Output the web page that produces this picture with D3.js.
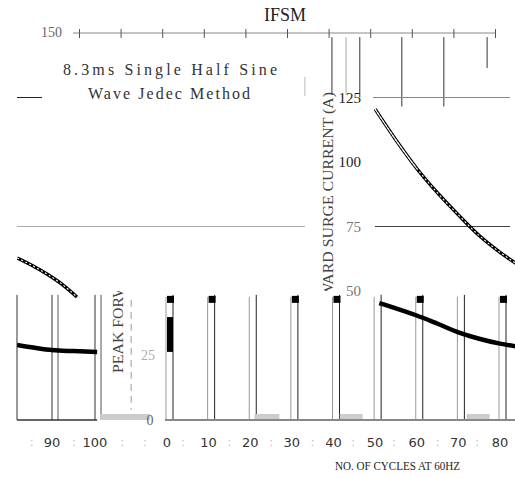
<!DOCTYPE html>
<html>
<head>
<meta charset="utf-8">
<script src="https://cdn.jsdelivr.net/npm/d3@7"></script>
<style>
  body { margin: 0; background: #fff; }
  text { font-family: "Liberation Serif", "DejaVu Serif", serif; }
  .sans { font-family: "DejaVu Sans", sans-serif; }
</style>
</head>
<body>
<div id="main"></div>
<script>
// ---------------- chart values -----------------//

let currentTicks = [25, 50, 75, 100, 125, 150];
let cycleTicks = [0, 10, 20, 30, 40, 50, 60, 70, 80];
let wrapTicks = [90, 100];
let cycleMinor = [-5.3, 3.8, 15, 25, 35, 44.7, 54.5, 65, 74.5];
let wrapMinor = [85.3, 95.1, 106.3];
let topTicks = [-20, -10, 0, 10, 20, 30, 40, 50, 60, 70, 80];

// surge curve pieces: cycles / amps
let upperCycles = [50, 55, 60, 65, 70, 75, 80, 84];
let upperAmps = [120.5, 108.5, 97.5, 88, 79.5, 71.5, 65, 60.5];
let midCycles = [81.9, 85.5, 89, 92.5, 95.8];
let midAmps = [62.8, 59.8, 56.4, 52.4, 47.7];
let linkCycles = [45.2, 48.5, 51.9];
let linkAmps = [51.5, 48, 44.6];
let lowerCycles = [51, 55, 60, 65, 70, 75, 80, 84];
let lowerAmps = [45.3, 43.3, 40.5, 37.3, 34, 31.5, 29.6, 28.5];
let tailCycles = [81.9, 86, 90, 95, 100.5];
let tailAmps = [29.1, 28, 27.1, 26.7, 26.4];

// grid pieces
let capCycles = [0, 10, 30, 40, 60, 80];
let cycleBands = [[21, 27], [41.5, 47], [72, 77.5]];
let wrapBands = [[101.2, 112.8]];
let topLineCycles = [40.8, 44.2, 47.5, 57.6, 67.7, 78.1];
let topLineEnds = [126, 126, 125, 121.5, 121.5, 136.4];
let axisBar = [26.4, 39.9];

// ---------------- setup -----------------//

let width = 515;
let height = 478;
let leftEdge = 17;
let rightStart = 372;
let rightEnd = 510;

let svg = d3.select("#main")
  .append("svg")
  .attr("width", width)
  .attr("height", height)

let y = d3.scaleLinear().domain([0, 150]).range([420, 33]);
let xMain = d3.scaleLinear().domain([0, 80]).range([167, 500]);
let xWrap = d3.scaleLinear().domain([90, 100]).range([52, 95]);
let xTop = d3.scaleLinear().domain([-20, 80]).range([79, 495]);

let defs = svg.append("defs");
function addClip(id, x, yy, w, h) {
  defs.append("clipPath").attr("id", id)
    .append("rect").attr("x", x).attr("y", yy).attr("width", w).attr("height", h);
}
addClip("clipRight", rightStart, 90, width - rightStart, y(48.5) - 90);
addClip("clipRightHead", rightStart, 90, xMain(60) - rightStart, y(48.5) - 90);
addClip("clipLeft", leftEdge, 0, 100 - leftEdge, height);
addClip("clipLabelHigh", 300, 88, 45, y(50) - 88);
addClip("clipLabelLow", 100, y(50), 35, 120);

let line = d3.line().curve(d3.curveMonotoneX);
function zipPts(xs, ys, sx) {
  return xs.map((c, i) => [sx(c), y(ys[i])]);
}

// ---------------- title & note -----------------//

svg.append("text")
  .attr("x", 285).attr("y", 21)
  .attr("text-anchor", "middle")
  .attr("font-size", 18)
  .attr("fill", "#222")
  .text("IFSM");

svg.append("text")
  .attr("x", 63).attr("y", 75)
  .attr("font-size", 16)
  .attr("fill", "#333")
  .attr("textLength", 214)
  .attr("lengthAdjust", "spacing")
  .text("8.3ms Single Half Sine");

svg.append("text")
  .attr("x", 88).attr("y", 99)
  .attr("font-size", 16)
  .attr("fill", "#333")
  .attr("textLength", 162)
  .attr("lengthAdjust", "spacing")
  .text("Wave Jedec Method");

// ---------------- top axis -----------------//

let topAxis = svg.append("g")
  .attr("transform", `translate(0, ${y(150)})`)
  .call(d3.axisBottom(xTop).tickValues(topTicks).tickSizeInner(5).tickSizeOuter(0).tickFormat(""));
topAxis.select(".domain").attr("stroke", "#888").attr("d", `M73,0H495`);
topAxis.selectAll(".tick line").attr("y1", -4).attr("stroke", "#555");

svg.selectAll(".topLine")
  .data(topLineCycles)
  .enter()
  .append("line")
  .attr("class", "topLine")
  .attr("x1", d => xTop(d)).attr("x2", d => xTop(d))
  .attr("y1", y(148.4))
  .attr("y2", (d, i) => y(topLineEnds[i]))
  .attr("stroke", (d, i) => i == 1 ? "#aaa" : "#333");

svg.append("line")
  .attr("x1", xTop(34.3)).attr("x2", xTop(34.3))
  .attr("y1", y(133)).attr("y2", y(125.5))
  .attr("stroke", "#bbb");

// ---------------- horizontal grid -----------------//

function hLine(x1, x2, v, color) {
  svg.append("line")
    .attr("x1", x1).attr("x2", x2)
    .attr("y1", y(v)).attr("y2", y(v))
    .attr("stroke", color);
}
hLine(leftEdge, 42, 125, "#222");
hLine(rightStart + 1, rightEnd, 125, "#888");
hLine(leftEdge, 305, 75, "#aaa");
hLine(rightStart + 3, rightEnd, 75, "#444");

// ---------------- bottom grid -----------------//

let gridTop = y(48.5);

svg.selectAll(".gridGray")
  .data(cycleTicks)
  .enter()
  .append("line")
  .attr("x1", d => xMain(d) - 1).attr("x2", d => xMain(d) - 1)
  .attr("y1", gridTop + 2).attr("y2", y(0))
  .attr("stroke", "#999");

svg.selectAll(".gridBlack")
  .data(cycleTicks)
  .enter()
  .append("line")
  .attr("x1", d => xMain(d) + 6).attr("x2", d => xMain(d) + 6)
  .attr("y1", gridTop).attr("y2", y(0))
  .attr("stroke", "#222");

wrapTicks.forEach(function(v) {
  [[0, "#333"], [6, "#555"]].forEach(function(o) {
    svg.append("line")
      .attr("x1", xWrap(v) + o[0]).attr("x2", xWrap(v) + o[0])
      .attr("y1", gridTop).attr("y2", y(0))
      .attr("stroke", o[1]);
  });
});
svg.append("line")
  .attr("x1", leftEdge).attr("x2", leftEdge)
  .attr("y1", gridTop).attr("y2", y(0))
  .attr("stroke", "#333");

svg.append("line")
  .attr("x1", xWrap(108.4)).attr("x2", xWrap(108.4))
  .attr("y1", gridTop + 5).attr("y2", y(4))
  .attr("stroke", "#999")
  .attr("stroke-dasharray", "7,5");

svg.selectAll(".cap")
  .data(capCycles)
  .enter()
  .append("rect")
  .attr("x", d => xMain(d))
  .attr("y", gridTop + 1)
  .attr("width", 7)
  .attr("height", 7)
  .attr("fill", "#000");

svg.append("rect")
  .attr("x", xMain(0))
  .attr("y", y(axisBar[1]))
  .attr("width", 6)
  .attr("height", y(axisBar[0]) - y(axisBar[1]))
  .attr("fill", "#000");

// gray bands along the base
svg.selectAll(".band")
  .data(cycleBands)
  .enter()
  .append("rect")
  .attr("x", d => xMain(d[0]))
  .attr("y", y(0) - 6)
  .attr("width", d => xMain(d[1]) - xMain(d[0]))
  .attr("height", 6)
  .attr("fill", "#ccc");

svg.selectAll(".wband")
  .data(wrapBands)
  .enter()
  .append("rect")
  .attr("x", d => xWrap(d[0]))
  .attr("y", y(0) - 6)
  .attr("width", d => xWrap(d[1]) - xWrap(d[0]))
  .attr("height", 6)
  .attr("fill", "#ccc");

// base lines
svg.append("line")
  .attr("x1", leftEdge).attr("x2", xWrap(100.5))
  .attr("y1", y(0)).attr("y2", y(0))
  .attr("stroke", "#333").attr("stroke-width", 1.5);
svg.append("line")
  .attr("x1", xMain(-0.5)).attr("x2", width)
  .attr("y1", y(0)).attr("y2", y(0))
  .attr("stroke", "#888").attr("stroke-width", 2);

// ---------------- curves -----------------//

function hatched(pts, clip, dash) {
  let g = svg.append("g").attr("clip-path", `url(#${clip})`);
  g.append("path").attr("d", line(pts))
    .attr("fill", "none").attr("stroke", "#000").attr("stroke-width", 3.4);
  g.append("path").attr("d", line(pts))
    .attr("fill", "none").attr("stroke", "#fff").attr("stroke-width", 1.1)
    .attr("stroke-dasharray", dash);
}

let upperPts = zipPts(upperCycles, upperAmps, xMain);
hatched(upperPts, "clipRight", "2,2.5");
// head of the upper curve is a plain double line
svg.append("g").attr("clip-path", "url(#clipRightHead)")
  .append("path").attr("d", line(upperPts))
  .attr("fill", "none").attr("stroke", "#fff").attr("stroke-width", 1.1);
hatched(zipPts(midCycles, midAmps, xWrap), "clipLeft", "2,2.5");
hatched(zipPts(linkCycles, linkAmps, xMain), "clipRight", null);

svg.append("path")
  .attr("d", line(zipPts(lowerCycles, lowerAmps, xMain)))
  .attr("fill", "none").attr("stroke", "#000").attr("stroke-width", 4.5);

svg.append("g").attr("clip-path", "url(#clipLeft)")
  .append("path")
  .attr("d", line(zipPts(tailCycles, tailAmps, xWrap)))
  .attr("fill", "none").attr("stroke", "#000").attr("stroke-width", 4.5);

// ---------------- labels -----------------//

svg.selectAll(".yLabel")
  .data(currentTicks.filter(d => d >= 50 && d <= 125))
  .enter()
  .append("text")
  .attr("x", 361)
  .attr("y", d => y(d))
  .attr("dy", "0.35em")
  .attr("text-anchor", "end")
  .attr("font-size", 15)
  .attr("fill", d => d >= 100 ? "#222" : "#777")
  .text(d => d);

svg.append("text")
  .attr("x", 62).attr("y", y(150) + 4)
  .attr("text-anchor", "end")
  .attr("font-size", 14)
  .attr("fill", "#666")
  .text(currentTicks[5]);

svg.append("text")
  .attr("x", 148).attr("y", y(25))
  .attr("dy", "0.35em")
  .attr("text-anchor", "middle")
  .attr("font-size", 14)
  .attr("fill", "#aaa")
  .text(currentTicks[0]);

svg.append("text")
  .attr("x", 150).attr("y", y(0))
  .attr("dy", "0.35em")
  .attr("text-anchor", "middle")
  .attr("font-size", 14)
  .attr("fill", "#666")
  .text(0);

let yTitle = "PEAK FORWARD SURGE CURRENT (A)";
[[123, "clipLabelLow"], [333, "clipLabelHigh"]].forEach(function(p) {
  svg.append("g").attr("clip-path", `url(#${p[1]})`)
    .append("text")
    .attr("transform", `translate(${p[0]}, 373) rotate(-90)`)
    .attr("font-size", 15)
    .attr("fill", "#444")
    .attr("textLength", 281)
    .attr("lengthAdjust", "spacingAndGlyphs")
    .text(yTitle);
});

svg.selectAll(".xLabel")
  .data(cycleTicks)
  .enter()
  .append("text")
  .attr("class", "sans")
  .attr("x", d => xMain(d))
  .attr("y", 447)
  .attr("text-anchor", "middle")
  .attr("font-size", 13)
  .attr("fill", "#333")
  .text(d => d);

svg.selectAll(".wLabel")
  .data(wrapTicks)
  .enter()
  .append("text")
  .attr("class", "sans")
  .attr("x", d => xWrap(d))
  .attr("y", 447)
  .attr("text-anchor", "middle")
  .attr("font-size", 13)
  .attr("fill", "#333")
  .text(d => d);

svg.selectAll(".xMinor")
  .data(cycleMinor)
  .enter()
  .append("text")
  .attr("x", d => xMain(d))
  .attr("y", 446)
  .attr("text-anchor", "middle")
  .attr("font-size", 12)
  .attr("fill", "#bbb")
  .text(":");

svg.selectAll(".wMinor")
  .data(wrapMinor)
  .enter()
  .append("text")
  .attr("x", d => xWrap(d))
  .attr("y", 446)
  .attr("text-anchor", "middle")
  .attr("font-size", 12)
  .attr("fill", "#bbb")
  .text(":");

svg.append("text")
  .attr("x", 335).attr("y", 470)
  .attr("font-size", 12)
  .attr("fill", "#222")
  .attr("textLength", 125)
  .attr("lengthAdjust", "spacingAndGlyphs")
  .text("NO. OF CYCLES AT 60HZ");
</script>
</body>
</html>
